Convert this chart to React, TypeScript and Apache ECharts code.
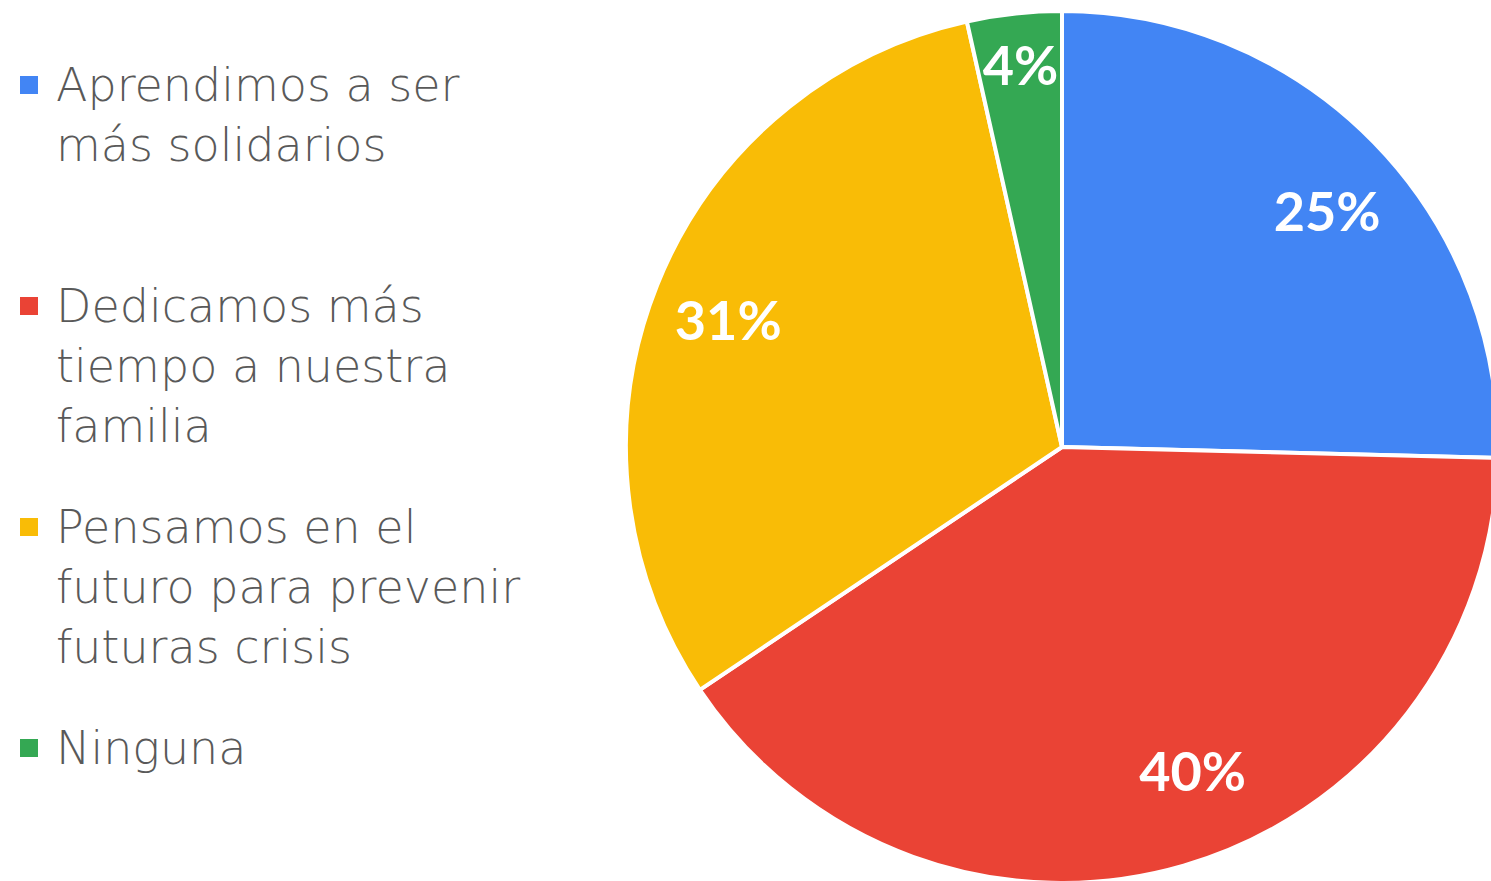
import React, { useEffect, useRef } from "react";
import * as echarts from "echarts";

const categories = [
  "Aprendimos a ser\nmás solidarios",
  "Dedicamos más\ntiempo a nuestra\nfamilia",
  "Pensamos en el\nfuturo para prevenir\nfuturas crisis",
  "Ninguna",
];
const values = [25.4, 40.2, 30.9, 3.5];
const colors = ["#4285F4", "#EA4335", "#F9BC06", "#34A853"];
const labelShifts = [
  [7, 15],
  [30, -23],
  [1, 6],
  [-2, -24],
];

const CX = 1062;
const CY = 447;
const R = 436;

export default function App() {
  const ref = useRef<HTMLDivElement>(null);
  useEffect(() => {
    if (!ref.current) return;
    const chart = echarts.init(ref.current, null, { renderer: "svg" });
    const total = values.reduce((a, b) => a + b, 0);
    const data = categories.map((name, i) => ({ name, value: values[i], itemStyle: { color: colors[i] } }));
    const legendGraphics: any[] = [];
    categories.forEach((name, i) => {
      const y0 = 85 + 221 * i;
      legendGraphics.push({
        type: "rect",
        shape: { x: 20, y: y0 - 9, width: 18, height: 18 },
        style: { fill: colors[i] },
      });
      legendGraphics.push({
        type: "text",
        x: 56,
        y: y0 - 30,
        style: {
          text: name,
          fill: "#595959",
          font: "200 46px 'DejaVu Sans'",
          lineHeight: 60,
          verticalAlign: "top",
        },
      });
    });
    chart.setOption({
      animation: false,
      graphic: legendGraphics,
      series: [
        {
          type: "pie",
          center: [CX, CY],
          radius: [0, R],
          startAngle: 90,
          clockwise: true,
          data,
          itemStyle: { borderColor: "#ffffff", borderWidth: 4 },
          label: { show: false },
          labelLine: { show: false },
          silent: true,
        },
        {
          type: "pie",
          center: [CX, CY],
          radius: [R * 0.64, R],
          startAngle: 90,
          clockwise: true,
          data: categories.map((name, i) => ({ name, value: values[i] })),
          itemStyle: { color: "rgba(0,0,0,0)" },
          silent: true,
          labelLine: { show: false },
          labelLayout: (p: any) => ({ dx: labelShifts[p.dataIndex][0], dy: labelShifts[p.dataIndex][1] }),
          label: {
            show: true,
            position: "inside",
            color: "#ffffff",
            fontFamily: "Lato",
            fontWeight: "bold",
            fontSize: 54,
            formatter: (p: any) => Math.round((p.value / total) * 100) + "%",
          },
        },
      ],
    });
    return () => chart.dispose();
  }, []);
  return (
    <div
      ref={ref}
      style={{ position: "fixed", left: 0, top: 0, width: 1491, height: 881, background: "#fff" }}
    />
  );
}
